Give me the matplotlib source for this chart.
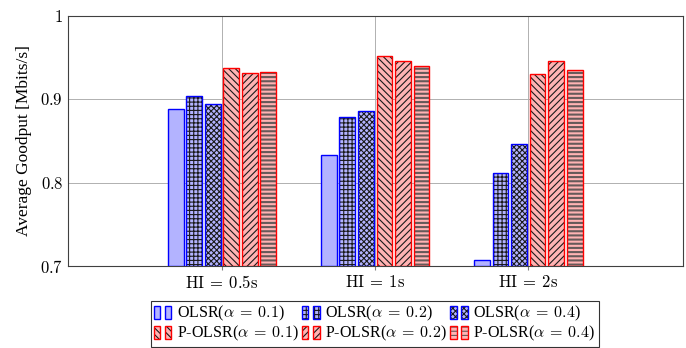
import numpy as np
import matplotlib
matplotlib.use("Agg")
import matplotlib.pyplot as plt
from matplotlib.patches import Patch
from matplotlib.legend_handler import HandlerTuple

plt.rcParams["font.family"] = ["Liberation Serif", "DejaVu Serif"]
plt.rcParams["mathtext.fontset"] = "cm"
plt.rcParams["hatch.linewidth"] = 0.8

groups = [r"$\mathrm{HI}\:=\:0.5\mathrm{s}$", r"$\mathrm{HI}\:=\:1\mathrm{s}$",
          r"$\mathrm{HI}\:=\:2\mathrm{s}$"]
series = [r"OLSR($\alpha\:=\:0.1$)", r"OLSR($\alpha\:=\:0.2$)", r"OLSR($\alpha\:=\:0.4$)",
          r"P-OLSR($\alpha\:=\:0.1$)", r"P-OLSR($\alpha\:=\:0.2$)", r"P-OLSR($\alpha\:=\:0.4$)"]
olsr_01 = [0.889, 0.833, 0.707]
olsr_02 = [0.904, 0.879, 0.812]
olsr_04 = [0.895, 0.886, 0.846]
polsr_01 = [0.938, 0.952, 0.931]
polsr_02 = [0.932, 0.946, 0.946]
polsr_04 = [0.933, 0.940, 0.935]
values = [olsr_01, olsr_02, olsr_04, polsr_01, polsr_02, polsr_04]

blue_fill, blue_edge = "#b3b3ff", "#0000ff"
red_fill, red_edge = "#ffb3b3", "#ff0000"
fills = [blue_fill] * 3 + [red_fill] * 3
edges = [blue_edge] * 3 + [red_edge] * 3
hatches = [None, "++++", "xxxxxx", "\\\\\\\\\\", "/////", "----"]
hatch_lw = [0.8, 0.8, 0.8, 0.8, 0.8, 1.5]
hatch_col = [(0.1, 0.1, 0.1, 1.0)] * 5 + [(0.4, 0.35, 0.35, 1.0)]

fig = plt.figure(figsize=(6.86, 3.48), dpi=100)
ax = fig.add_axes([0.0991, 0.2356, 0.8965, 0.7184])

x = np.arange(len(groups))
pitch = 0.121
width = 0.103
base = 0.7
handles = []
for i, vals in enumerate(values):
    pos = x + (i - 2.5) * pitch
    h = np.array(vals) - base
    with plt.rc_context({"hatch.linewidth": hatch_lw[i]}):
        bars = ax.bar(pos, h, width, bottom=base, color=fills[i], edgecolor=edges[i],
                      linewidth=1.0, hatch=hatches[i], zorder=3)
        # keep the coloured outline, draw the pattern in dark grey/black
        for b in bars:
            b._hatch_color = hatch_col[i]
        pair = []
        for _ in range(2):
            p = Patch(facecolor=fills[i], edgecolor=edges[i], hatch=hatches[i], linewidth=1.0)
            p._hatch_color = hatch_col[i]
            pair.append(p)
    handles.append(tuple(pair))

ax.set_xlim(-1.006, 3.01)
ax.set_ylim(0.7, 1.0)
ax.set_xticks(x)
ax.set_xticklabels(groups, fontsize=12)
ax.set_yticks([0.7, 0.8, 0.9, 1.0])
ax.set_yticklabels([r"$0.7$", r"$0.8$", r"$0.9$", r"$1$"], fontsize=12)
ax.set_ylabel("Average Goodput [Mbits/s]", fontsize=12.5, labelpad=6)
ax.grid(True, color="#b0b0b0", linewidth=0.7, zorder=0)
ax.set_axisbelow(True)
ax.tick_params(axis="x", direction="out", length=3, color="#808080")
ax.tick_params(axis="y", direction="in", length=0)
for s in ax.spines.values():
    s.set_linewidth(0.8)
    s.set_color("#404040")

# legend filled row by row: reorder for matplotlib's column-major layout
order = [0, 3, 1, 4, 2, 5]
leg = fig.legend([handles[k] for k in order], [series[k] for k in order], ncol=3,
                 loc="upper center", bbox_to_anchor=(0.546, 0.135), fontsize=11.5,
                 frameon=True, fancybox=False, edgecolor="black",
                 handler_map={tuple: HandlerTuple(ndivide=None, pad=0.3)},
                 handlelength=1.1, handleheight=0.9, handletextpad=0.35,
                 columnspacing=0.2, borderpad=0.2, labelspacing=0.05, borderaxespad=0)
leg.get_frame().set_linewidth(0.8)

fig.savefig("out.png", dpi=100)
